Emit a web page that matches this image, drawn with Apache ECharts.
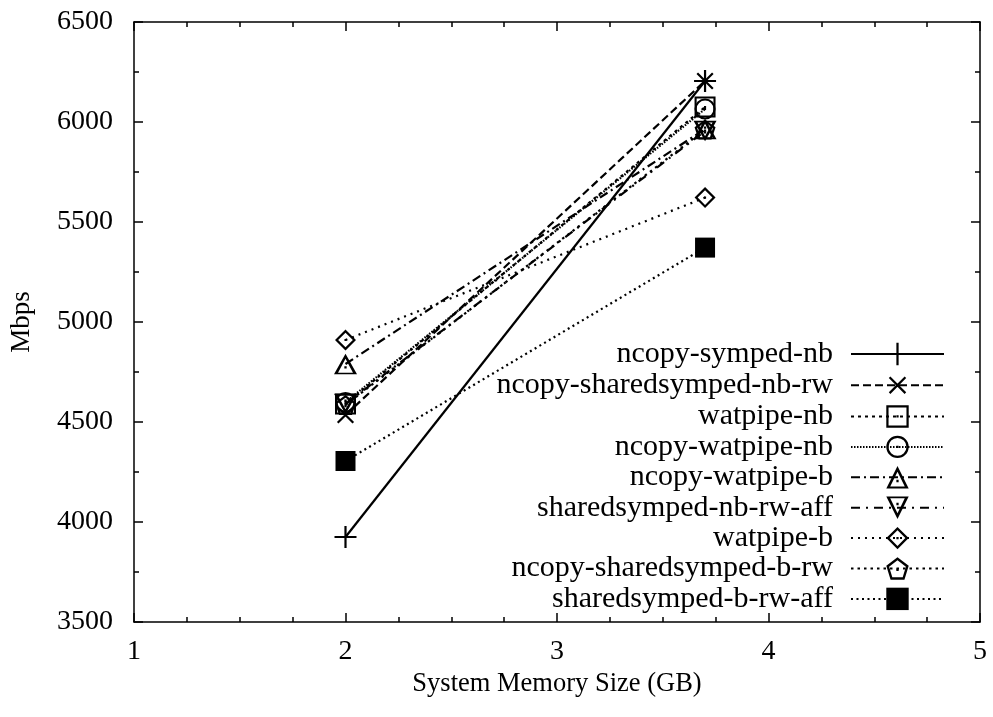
<!DOCTYPE html>
<html>
<head>
<meta charset="utf-8">
<script src="https://cdn.jsdelivr.net/npm/echarts@6/dist/echarts.min.js"></script>
<style>
  html, body { margin: 0; padding: 0; background: #fff; }
  #chart { width: 993px; height: 717px; }
</style>
</head>
<body>
<div id="chart"></div>
<script>
// Memory sizes (GB) at which each configuration was measured
const memorySizes = [2, 3.7];

// Series names, in legend order
const seriesNames = [
  'ncopy-symped-nb',
  'ncopy-sharedsymped-nb-rw',
  'watpipe-nb',
  'ncopy-watpipe-nb',
  'ncopy-watpipe-b',
  'sharedsymped-nb-rw-aff',
  'watpipe-b',
  'ncopy-sharedsymped-b-rw',
  'sharedsymped-b-rw-aff'
];

// Throughput (Mbps) per series at each memory size
const ncopySympedNb = [3925, 6205];
const ncopySharedsympedNbRw = [4535, 6205];
const watpipeNb = [4590, 6075];
const ncopyWatpipeNb = [4598, 6065];
const ncopyWatpipeB = [4790, 5965];
const sharedsympedNbRwAff = [4590, 5955];
const watpipeB = [4910, 5622];
const ncopySharedsympedBRw = [4585, 5962];
const sharedsympedBRwAff = [4305, 5372];

const seriesValues = [
  ncopySympedNb, ncopySharedsympedNbRw, watpipeNb, ncopyWatpipeNb,
  ncopyWatpipeB, sharedsympedNbRwAff, watpipeB, ncopySharedsympedBRw,
  sharedsympedBRwAff
];

// Axis tick values
const xTicks = [1, 2, 3, 4, 5];
const yTicks = [3500, 4000, 4500, 5000, 5500, 6000, 6500];

// Point glyphs: hollow outlines with a centre dot
const DOT = 'M9,9H11V11H9Z';
const SYM = {
  plus: 'path://M9,0H11V20H9ZM0,9H20V11H0Z',
  square: 'path://M0,0H20V20H0ZM2,2V18H18V2Z' + DOT,
  circle: 'path://M10,0A10,10,0,1,1,10,20A10,10,0,1,1,10,0ZM10,2A8,8,0,1,0,10,18A8,8,0,1,0,10,2Z' + DOT,
  triUp: 'path://M10,0L20,18H0ZM10,4.5L3.5,16.5H16.5ZM9,11H11V13H9Z',
  triDown: 'path://M0,0H20L10,18ZM3.5,1.5L10,13.5L16.5,1.5ZM9,5H11V7H9Z',
  diamond: 'path://M10,0L20,10L10,20L0,10ZM10,3L3,10L10,17L17,10Z' + DOT,
  pentagon: 'path://M10,0L19.51,6.91L15.88,18.09L4.12,18.09L0.49,6.91ZM10,2.5L2.87,7.68L5.59,16.07L14.41,16.07L17.13,7.68ZM9,9H11V11H9Z',
  filled: 'rect'
};

const styles = [
  { symbol: SYM.plus, size: 22, rotate: 0, dash: 'solid' },
  { symbol: SYM.plus, size: 22, rotate: 45, dash: [8, 4] },
  { symbol: SYM.square, size: 21, rotate: 0, dash: [3, 4] },
  { symbol: SYM.circle, size: 21, rotate: 0, dash: [1.5, 1.5] },
  { symbol: SYM.triUp, size: 23, rotate: 0, dash: [9, 4, 2, 4] },
  { symbol: SYM.triDown, size: 23, rotate: 0, dash: [9, 6, 2, 6] },
  { symbol: SYM.diamond, size: 21, rotate: 0, dash: [2, 5] },
  { symbol: SYM.pentagon, size: 21, rotate: 0, dash: [2.5, 4] },
  { symbol: SYM.filled, size: 20, rotate: 0, dash: [2, 3.5] }
];

const FONT = 'Liberation Serif';

const series = seriesNames.map((name, i) => ({
  name: name,
  type: 'line',
  xAxisIndex: 0,
  yAxisIndex: 0,
  data: memorySizes.map((x, j) => [x, seriesValues[i][j]]),
  symbol: styles[i].symbol,
  symbolSize: styles[i].size,
  symbolRotate: styles[i].rotate,
  symbolKeepAspect: true,
  showAllSymbol: true,
  lineStyle: { color: '#000', width: 2.2, type: styles[i].dash },
  itemStyle: { color: '#000', borderWidth: 0 },
  emphasis: { disabled: true },
  animation: false,
  z: 2 + i
}));

const tickBase = {
  inside: true,
  length: 9,
  lineStyle: { color: '#000', width: 1.5 }
};
const minorBase = {
  show: true,
  length: 5,
  lineStyle: { color: '#000', width: 1.5 }
};

const chart = echarts.init(document.getElementById('chart'), null, { renderer: 'canvas' });
chart.setOption({
  backgroundColor: '#fff',
  animation: false,
  grid: { left: 134, right: 13, top: 22, bottom: 95, containLabel: false },
  xAxis: [
    {
      type: 'value',
      min: xTicks[0], max: xTicks[xTicks.length - 1], interval: 1,
      name: 'System Memory Size (GB)',
      nameLocation: 'middle', nameGap: 35,
      nameTextStyle: { fontFamily: FONT, fontSize: 26.5, color: '#000' },
      axisLine: { show: true, lineStyle: { color: '#000', width: 1.5 } },
      axisTick: tickBase,
      minorTick: Object.assign({ splitNumber: 4 }, minorBase),
      axisLabel: { fontFamily: FONT, fontSize: 28, color: '#000', margin: 16 },
      splitLine: { show: false }
    },
    {
      type: 'value', position: 'top',
      min: xTicks[0], max: xTicks[xTicks.length - 1], interval: 1,
      axisLine: { show: true, lineStyle: { color: '#000', width: 1.5 } },
      axisTick: tickBase,
      minorTick: Object.assign({ splitNumber: 4 }, minorBase),
      axisLabel: { show: false },
      splitLine: { show: false }
    }
  ],
  yAxis: [
    {
      type: 'value',
      min: yTicks[0], max: yTicks[yTicks.length - 1], interval: 500,
      name: 'Mbps',
      nameLocation: 'middle', nameGap: 99,
      nameTextStyle: { fontFamily: FONT, fontSize: 27, color: '#000' },
      axisLine: { show: true, lineStyle: { color: '#000', width: 1.5 } },
      axisTick: tickBase,
      minorTick: Object.assign({ splitNumber: 2 }, minorBase),
      axisLabel: {
        fontFamily: FONT, fontSize: 28, color: '#000', margin: 21,
        formatter: (v) => String(v)
      },
      splitLine: { show: false }
    },
    {
      type: 'value', position: 'right',
      min: yTicks[0], max: yTicks[yTicks.length - 1], interval: 500,
      axisLine: { show: true, lineStyle: { color: '#000', width: 1.5 } },
      axisTick: tickBase,
      minorTick: Object.assign({ splitNumber: 2 }, minorBase),
      axisLabel: { show: false },
      splitLine: { show: false }
    }
  ],
  legend: {
    orient: 'vertical',
    align: 'right',
    right: 48,
    top: 339,
    padding: 0,
    itemWidth: 93,
    itemHeight: 28,
    itemGap: 0.4,
    selectedMode: false,
    data: seriesNames,
    textStyle: { fontFamily: FONT, fontSize: 30, color: '#000', padding: [0, 13, 0, 0] }
  },
  series: series
});
</script>
</body>
</html>
